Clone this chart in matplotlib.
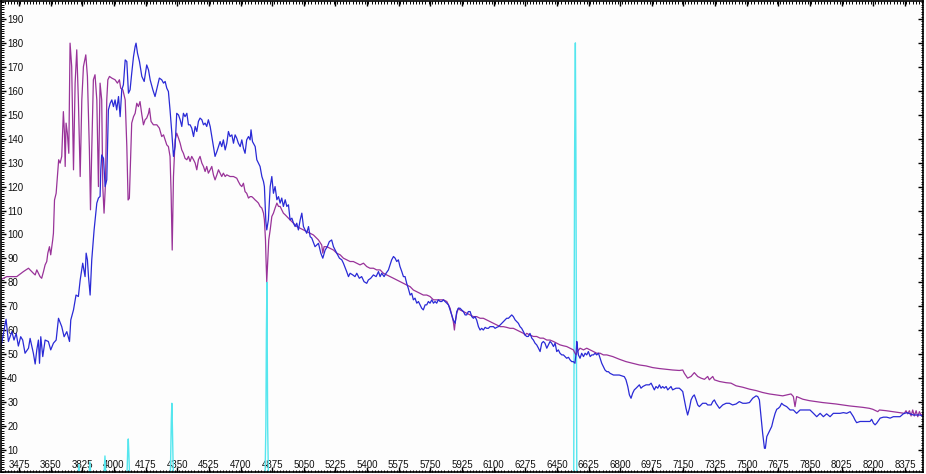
import matplotlib.pyplot as plt
from matplotlib.ticker import MultipleLocator

plt.rcParams['font.family'] = ['Liberation Sans', 'DejaVu Sans']

# observed spectrum (blue)
obs_wave = [3370, 3403, 3416, 3435, 3447, 3459, 3471, 3484, 3495, 3508, 3527, 3536, 3554, 3564, 3573,
            3582, 3588, 3595, 3606, 3619, 3637, 3650, 3665, 3680, 3693, 3711, 3724, 3739, 3754, 3761,
            3776, 3790, 3803, 3813, 3827, 3840, 3846, 3853, 3859, 3868, 3877, 3886, 3890, 3905, 3914,
            3923, 3927, 3932, 3942, 3951, 3960, 3969, 3979, 3988, 3997, 4006, 4015, 4025, 4034, 4043,
            4052, 4062, 4071, 4080, 4089, 4098, 4108, 4117, 4122, 4130, 4141, 4154, 4167, 4181, 4191,
            4200, 4215, 4227, 4240, 4251, 4264, 4274, 4283, 4292, 4301, 4310, 4320, 4329, 4338, 4347,
            4357, 4366, 4375, 4384, 4393, 4403, 4412, 4421, 4430, 4440, 4449, 4458, 4467, 4476, 4486,
            4495, 4504, 4513, 4522, 4532, 4541, 4550, 4559, 4569, 4578, 4587, 4596, 4605, 4615, 4624,
            4633, 4642, 4652, 4661, 4670, 4679, 4688, 4698, 4707, 4716, 4725, 4734, 4744, 4753, 4758,
            4766, 4771, 4781, 4790, 4799, 4808, 4818, 4827, 4832, 4840, 4845, 4854, 4864, 4873, 4882,
            4891, 4901, 4910, 4919, 4928, 4937, 4947, 4956, 4965, 4974, 4984, 4993, 5002, 5011, 5020,
            5030, 5039, 5048, 5057, 5066, 5076, 5085, 5094, 5112, 5131, 5144, 5155, 5168, 5180, 5191,
            5204, 5214, 5232, 5247, 5260, 5269, 5287, 5297, 5306, 5321, 5333, 5343, 5357, 5370, 5383,
            5398, 5407, 5420, 5435, 5450, 5463, 5472, 5481, 5494, 5505, 5518, 5527, 5536, 5546, 5555,
            5564, 5573, 5582, 5592, 5601, 5610, 5619, 5628, 5638, 5647, 5656, 5665, 5675, 5684, 5693,
            5702, 5711, 5721, 5730, 5739, 5748, 5758, 5767, 5776, 5785, 5794, 5804, 5813, 5822, 5831,
            5841, 5850, 5859, 5868, 5877, 5887, 5896, 5905, 5914, 5923, 5933, 5942, 5951, 5960, 5970,
            5979, 5988, 5997, 6006, 6016, 6025, 6034, 6043, 6053, 6062, 6071, 6080, 6090, 6099, 6108,
            6117, 6126, 6136, 6145, 6154, 6163, 6172, 6182, 6191, 6200, 6209, 6219, 6228, 6237, 6246,
            6255, 6265, 6274, 6283, 6292, 6301, 6311, 6320, 6329, 6338, 6348, 6357, 6366, 6375, 6384,
            6394, 6403, 6412, 6421, 6431, 6440, 6449, 6458, 6467, 6477, 6486, 6495, 6504, 6514, 6523,
            6532, 6541, 6550, 6556, 6560, 6563, 6569, 6578, 6587, 6597, 6606, 6615, 6624, 6634, 6643,
            6652, 6661, 6670, 6680, 6689, 6698, 6707, 6716, 6726, 6735, 6744, 6763, 6795, 6823, 6832,
            6842, 6851, 6860, 6869, 6878, 6888, 6897, 6906, 6915, 6925, 6943, 6961, 6971, 6980, 6989,
            6998, 7008, 7017, 7026, 7035, 7044, 7054, 7063, 7072, 7081, 7090, 7109, 7127, 7137, 7146,
            7155, 7164, 7173, 7183, 7192, 7201, 7210, 7220, 7229, 7238, 7247, 7256, 7275, 7284, 7303,
            7312, 7321, 7330, 7349, 7367, 7386, 7404, 7422, 7441, 7459, 7478, 7496, 7515, 7533, 7552,
            7561, 7570, 7579, 7588, 7598, 7603, 7611, 7620, 7629, 7638, 7647, 7657, 7666, 7675, 7684,
            7693, 7703, 7721, 7740, 7758, 7767, 7776, 7795, 7813, 7832, 7850, 7869, 7887, 7906, 7924,
            7942, 7961, 7979, 7998, 8016, 8035, 8053, 8072, 8090, 8099, 8108, 8127, 8145, 8164, 8182,
            8191, 8201, 8210, 8219, 8238, 8256, 8274, 8293, 8311, 8330, 8348, 8366, 8385, 8403, 8422,
            8440, 8459, 8483]
obs_flux = [51.1, 64.6, 55.3, 59.4, 55.9, 58.7, 53.4, 57.3, 55.9, 50.4, 52.5, 56.6, 50.4, 45.9, 51.8,
            55.9, 46.2, 57.3, 49.0, 55.9, 55.3, 51.8, 54.6, 55.9, 65.0, 61.5, 57.3, 59.4, 55.3, 64.3,
            68.5, 74.7, 74.1, 81.0, 88.0, 82.4, 92.2, 89.4, 82.4, 74.7, 89.4, 97.7, 101.9, 113.1, 115.2,
            115.9, 127.0, 133.2, 131.8, 120.0, 122.8, 152.0, 154.8, 156.2, 153.4, 156.2, 152.0, 157.6, 149.2, 160.4,
            162.5, 172.9, 172.2, 159.0, 160.4, 167.3, 174.3, 178.5, 179.9, 175.7, 172.2, 166.0, 163.9, 170.8, 168.7,
            164.6, 160.4, 157.6, 161.8, 165.3, 164.6, 163.2, 163.9, 161.1, 159.7, 152.0, 142.3, 132.6, 136.7, 150.6,
            149.9, 147.9, 145.1, 150.6, 149.2, 150.6, 145.8, 145.8, 144.4, 140.9, 145.1, 143.0, 147.2, 148.6, 147.9,
            145.8, 146.5, 145.1, 147.9, 145.1, 140.9, 136.7, 132.6, 134.6, 136.7, 138.8, 136.7, 139.5, 135.3, 138.1,
            143.0, 140.9, 141.6, 138.1, 141.6, 140.2, 138.1, 136.7, 139.5, 136.0, 133.9, 139.5, 140.9, 139.5, 143.7,
            138.8, 138.1, 136.7, 131.2, 129.8, 128.4, 124.2, 122.1, 120.0, 105.4, 101.9, 106.1, 120.0, 124.2, 117.2,
            120.0, 114.5, 115.8, 113.1, 115.2, 111.7, 114.5, 111.7, 112.4, 106.1, 106.8, 104.7, 103.3, 104.7, 101.9,
            106.1, 108.9, 103.3, 101.9, 100.5, 103.3, 99.1, 98.5, 94.9, 96.3, 92.2, 90.1, 93.5, 94.9, 97.0,
            97.7, 94.9, 92.2, 90.1, 89.4, 88.0, 84.5, 82.4, 83.8, 83.1, 82.4, 83.8, 81.7, 82.4, 80.3,
            79.6, 81.0, 81.7, 83.1, 82.4, 84.5, 82.4, 83.8, 82.4, 83.8, 85.2, 87.3, 89.4, 90.8, 90.1,
            88.7, 89.4, 86.6, 84.5, 82.4, 82.4, 79.6, 77.5, 74.7, 75.4, 72.7, 73.4, 71.3, 72.0, 70.6,
            69.2, 68.5, 70.6, 70.6, 72.0, 71.3, 72.7, 71.3, 72.0, 71.3, 72.7, 72.0, 72.0, 72.7, 72.0,
            71.3, 70.6, 68.5, 66.4, 64.3, 62.9, 67.8, 69.2, 69.2, 68.5, 67.8, 66.4, 66.4, 67.8, 67.8,
            65.7, 65.0, 65.7, 64.3, 61.5, 60.1, 60.8, 60.1, 61.2, 60.8, 60.8, 61.5, 61.5, 61.5, 60.8,
            61.2, 61.5, 62.2, 62.9, 63.6, 64.3, 65.0, 65.0, 65.7, 66.4, 65.7, 64.3, 63.6, 62.9, 61.5,
            60.8, 59.4, 58.0, 57.4, 57.4, 58.7, 56.7, 55.9, 54.6, 53.9, 52.5, 51.1, 54.6, 55.3, 54.6,
            52.5, 53.9, 55.3, 54.6, 53.2, 54.6, 51.1, 51.8, 50.4, 49.7, 49.7, 49.0, 48.3, 48.7, 47.6,
            46.9, 46.9, 46.2, 50.4, 55.3, 53.2, 49.7, 48.3, 50.4, 49.0, 50.4, 49.7, 51.1, 49.0, 49.7,
            49.7, 50.4, 49.7, 50.4, 48.3, 46.2, 44.8, 43.4, 42.7, 42.7, 42.0, 41.3, 41.3, 40.6, 39.3,
            36.5, 33.0, 31.6, 33.7, 35.1, 35.8, 36.5, 37.2, 35.8, 36.5, 37.2, 37.2, 37.9, 36.5, 35.1,
            36.5, 35.8, 37.2, 35.8, 36.5, 35.8, 36.5, 35.1, 35.8, 36.5, 35.1, 35.8, 35.8, 35.1, 34.4,
            30.9, 27.4, 24.6, 27.4, 30.9, 32.3, 33.0, 30.9, 28.8, 28.1, 28.8, 29.5, 29.5, 28.8, 28.8,
            30.2, 30.9, 29.5, 27.4, 28.8, 29.5, 29.5, 28.8, 29.2, 30.2, 29.5, 29.5, 29.8, 31.6, 32.6,
            32.3, 30.9, 23.9, 17.0, 10.7, 10.7, 15.6, 17.0, 18.4, 19.8, 22.6, 25.3, 27.0, 27.4, 28.1,
            29.5, 28.8, 28.1, 26.7, 26.7, 26.0, 25.3, 26.7, 26.7, 26.7, 26.7, 25.3, 23.9, 25.3, 23.9,
            25.1, 23.9, 25.3, 25.3, 25.3, 25.6, 25.3, 26.0, 23.9, 22.5, 21.4, 21.9, 21.9, 21.9, 21.9,
            22.8, 21.2, 20.5, 21.2, 23.3, 23.7, 23.7, 23.3, 23.9, 23.9, 23.9, 25.1, 25.6, 25.1, 24.6,
            24.6, 24.6, 23.9]

# template spectrum (purple)
tmpl_wave = [3370, 3407, 3462, 3499, 3527, 3545, 3554, 3564, 3573, 3582, 3591, 3600, 3610, 3619, 3628,
             3634, 3643, 3650, 3656, 3661, 3665, 3671, 3680, 3687, 3694, 3702, 3711, 3720, 3726, 3730,
             3735, 3742, 3750, 3757, 3766, 3776, 3785, 3794, 3803, 3813, 3822, 3831, 3844, 3853, 3864,
             3870, 3877, 3886, 3895, 3905, 3914, 3923, 3932, 3938, 3945, 3953, 3960, 3966, 3975, 3988,
             4006, 4019, 4030, 4037, 4049, 4062, 4071, 4078, 4085, 4093, 4098, 4108, 4117, 4126, 4135,
             4144, 4154, 4163, 4172, 4181, 4191, 4196, 4205, 4218, 4237, 4251, 4264, 4274, 4283, 4292,
             4301, 4310, 4316, 4322, 4329, 4338, 4347, 4357, 4366, 4375, 4384, 4393, 4403, 4412, 4421,
             4430, 4440, 4449, 4458, 4467, 4476, 4486, 4495, 4504, 4513, 4522, 4532, 4541, 4550, 4559,
             4569, 4578, 4587, 4596, 4605, 4615, 4624, 4642, 4661, 4679, 4688, 4698, 4707, 4716, 4725,
             4734, 4744, 4753, 4762, 4771, 4781, 4790, 4799, 4808, 4818, 4827, 4832, 4838, 4841, 4845,
             4851, 4856, 4864, 4873, 4882, 4891, 4901, 4910, 4919, 4928, 4937, 4947, 4956, 4974, 4993,
             5011, 5030, 5048, 5066, 5085, 5103, 5131, 5149, 5155, 5162, 5177, 5195, 5214, 5232, 5251,
             5269, 5287, 5306, 5324, 5343, 5361, 5380, 5398, 5416, 5435, 5453, 5472, 5490, 5509, 5527,
             5546, 5564, 5582, 5601, 5619, 5638, 5656, 5675, 5693, 5711, 5730, 5748, 5767, 5785, 5804,
             5822, 5841, 5850, 5859, 5868, 5877, 5883, 5888, 5896, 5905, 5914, 5933, 5951, 5970, 5988,
             6006, 6025, 6043, 6062, 6080, 6099, 6117, 6136, 6154, 6172, 6191, 6209, 6228, 6246, 6265,
             6274, 6283, 6301, 6320, 6338, 6357, 6375, 6394, 6412, 6431, 6449, 6467, 6486, 6504, 6523,
             6541, 6550, 6556, 6563, 6578, 6597, 6615, 6634, 6652, 6670, 6689, 6707, 6726, 6759, 6795,
             6832, 6869, 6906, 6943, 6980, 7017, 7054, 7090, 7127, 7146, 7155, 7173, 7192, 7210, 7229,
             7247, 7266, 7284, 7293, 7312, 7321, 7349, 7386, 7413, 7441, 7478, 7515, 7552, 7588, 7625,
             7662, 7699, 7745, 7758, 7767, 7776, 7810, 7846, 7883, 7920, 7957, 7994, 8031, 8068, 8105,
             8142, 8178, 8197, 8225, 8234, 8271, 8307, 8344, 8372, 8381, 8390, 8400, 8409, 8418, 8427,
             8437, 8446, 8455, 8464, 8483]
tmpl_flux = [81.0, 82.4, 82.4, 84.5, 85.9, 84.5, 83.8, 83.1, 85.2, 83.8, 82.4, 81.7, 84.5, 87.3, 88.7,
             92.2, 94.9, 91.5, 94.9, 97.7, 100.5, 114.4, 117.2, 124.2, 131.2, 129.8, 132.6, 151.3, 142.3, 128.4,
             146.5, 142.3, 133.9, 179.9, 170.1, 127.0, 163.2, 177.1, 156.2, 124.2, 156.2, 170.1, 175.0, 166.0, 135.3,
             110.3, 135.3, 164.6, 166.7, 156.2, 120.0, 163.2, 156.2, 120.0, 108.9, 121.4, 156.2, 164.6, 166.0, 165.3,
             164.6, 163.2, 164.6, 161.1, 160.4, 156.2, 136.7, 114.4, 115.1, 135.3, 146.5, 149.2, 150.6, 154.8, 153.4,
             155.5, 150.0, 145.8, 147.9, 148.6, 150.6, 152.7, 147.2, 145.8, 145.8, 144.4, 140.9, 141.6, 139.5, 137.4,
             136.7, 132.6, 117.2, 93.5, 124.2, 139.5, 142.3, 140.2, 138.1, 135.3, 133.9, 131.8, 131.2, 132.6, 130.5,
             132.6, 131.2, 129.8, 127.0, 131.2, 132.6, 129.8, 128.4, 126.3, 128.4, 125.6, 127.0, 128.4, 124.9, 122.8,
             124.9, 127.0, 125.6, 124.2, 125.6, 124.2, 124.9, 124.2, 124.2, 123.5, 122.1, 120.7, 120.0, 121.4, 117.9,
             117.2, 115.2, 115.8, 115.8, 115.2, 114.4, 113.8, 113.1, 111.7, 111.0, 108.9, 106.1, 97.7, 89.4, 80.3,
             89.4, 97.7, 101.9, 107.5, 108.9, 111.0, 113.1, 111.7, 111.7, 110.3, 108.9, 108.2, 107.5, 106.1, 104.7,
             103.3, 102.6, 101.9, 101.2, 100.5, 99.8, 97.7, 95.6, 92.2, 94.9, 94.9, 94.2, 93.5, 92.2, 91.5,
             90.1, 89.4, 88.7, 88.7, 88.0, 87.3, 88.0, 86.6, 85.9, 85.9, 85.2, 85.2, 83.8, 83.1, 82.4,
             81.7, 81.0, 80.3, 79.6, 78.9, 78.2, 76.8, 76.1, 75.4, 74.7, 74.7, 74.1, 72.7, 72.7, 72.7,
             72.7, 72.0, 70.6, 69.2, 66.4, 63.6, 60.1, 63.6, 67.1, 69.2, 68.5, 67.8, 67.1, 66.4, 65.7,
             65.7, 65.0, 65.0, 64.3, 63.6, 62.9, 62.2, 61.5, 61.5, 61.2, 60.8, 60.8, 60.1, 59.4, 58.7,
             58.0, 58.7, 58.0, 57.4, 57.4, 56.7, 56.7, 55.9, 55.9, 55.3, 54.6, 53.9, 53.5, 53.2, 52.5,
             51.8, 50.4, 49.7, 51.1, 52.5, 51.8, 52.5, 51.8, 51.1, 50.4, 50.4, 49.7, 49.7, 49.0, 47.9,
             46.9, 46.2, 45.5, 45.1, 44.4, 44.0, 43.7, 43.4, 43.2, 43.4, 42.0, 40.0, 40.7, 42.3, 40.7,
             40.0, 39.5, 40.7, 39.3, 40.7, 39.3, 38.6, 38.1, 37.9, 36.8, 36.2, 35.4, 34.8, 34.0, 33.4,
             33.0, 32.6, 33.4, 32.3, 28.1, 32.3, 31.2, 30.6, 30.2, 29.8, 29.5, 29.2, 28.8, 28.4, 28.1,
             27.8, 27.4, 27.0, 26.0, 26.7, 26.4, 26.0, 25.6, 25.3, 26.4, 25.1, 26.4, 24.2, 26.7, 24.2,
             26.4, 23.9, 26.0, 24.6, 25.3]

# emission line spectrum (cyan)
line_wave = [3375, 3802, 3806, 3810, 3862, 3867, 3871, 3945, 3950, 3955, 4072, 4076, 4079, 4082, 4086,
             4312, 4317, 4320, 4323, 4328, 4836, 4840, 4843, 4846, 4850, 4854, 6543, 6548, 6552, 6555,
             6560, 8475]
line_flux = [0, 0, 4, 0, 0, 5, 0, 0, 7.5, 0, 0, 10, 14.6, 9, 0,
             0, 22, 29.5, 20, 0, 0, 20, 59, 80, 20, 0, 0, 135, 180, 135,
             0, 0]

xticks = list(range(3475, 8376, 175))
yticks = list(range(10, 191, 10))

fig = plt.figure(figsize=(9.26, 4.74), dpi=100)
ax = fig.add_axes([1 / 926, 2 / 474, 922 / 926, 471 / 474])
ax.set_facecolor('#fdfdfd')

ax.plot(line_wave, line_flux, color='#55e6ee', lw=1.0)
ax.plot(tmpl_wave, tmpl_flux, color='#993399', lw=0.9)
ax.plot(obs_wave, obs_flux, color='#2a2ad6', lw=0.9)

ax.set_xlim(3375, 8475)
ax.set_ylim(0.8, 197.5)
ax.set_xticks(xticks)
ax.set_xticklabels([str(v) for v in xticks], va='bottom')
ax.set_yticks(yticks)
ax.set_yticklabels([str(v) for v in yticks], ha='left')
ax.xaxis.set_minor_locator(MultipleLocator(17.5))
ax.yaxis.set_minor_locator(MultipleLocator(1))
ax.tick_params(which='both', direction='in', top=True, right=True, colors='black',
               labelsize=7, labelcolor='#111111')
ax.tick_params(which='major', length=3.6, width=1)
ax.tick_params(which='minor', length=1.8, width=0.7)
ax.tick_params(axis='y', pad=-4.5)
ax.tick_params(axis='x', pad=-1.5)
for s in ax.spines.values():
    s.set_linewidth(1.2)

fig.savefig('out.png', dpi=100)
